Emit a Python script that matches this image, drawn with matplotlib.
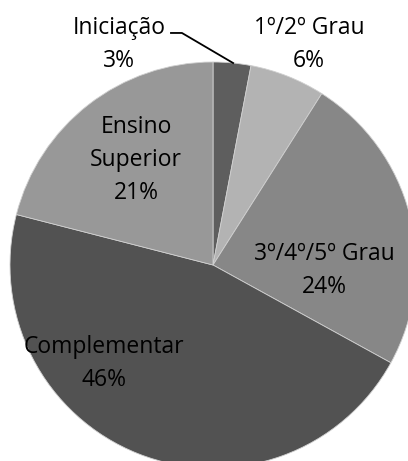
import matplotlib
matplotlib.use("Agg")
import numpy as np
from matplotlib import pyplot as plt

# data
categories = ["Iniciação", "1º/2º Grau", "3º/4º/5º Grau", "Complementar", "Ensino\nSuperior"]
shares = [3, 6, 24, 46, 21]
colors = ["#5e5e5e", "#b3b3b3", "#878787", "#525252", "#989898"]

# label centres in axis units (pie radius = 1)
label_pos = [(-0.463, 1.084), (0.473, 1.084), (0.547, -0.025), (-0.537, -0.483), (-0.379, 0.517)]

plt.rcParams['font.family'] = ['Open Sans', 'DejaVu Sans']

fig = plt.figure(figsize=(4.08, 4.61), dpi=100)
ax = fig.add_axes([10 / 408, (196 - 203) / 461, 406 / 408, 406 / 461])
ax.pie(shares, colors=colors, startangle=90, counterclock=False, radius=1,
       wedgeprops=dict(edgecolor="#d0d0d0", linewidth=0.6))
ax.set_xlim(-1, 1)
ax.set_ylim(-1, 1)
ax.set_aspect("equal")
ax.axis("off")

for name, val, (x, y) in zip(categories, shares, label_pos):
    ax.text(x, y, f"{name}\n{val}%", ha="center", va="center", fontsize=16.5,
            linespacing=1.5, color="black")

# leader line for the small slice
ax.plot([-0.207, -0.153, 0.099], [1.143, 1.143, 0.995], color="black", lw=1.3,
        clip_on=False)

fig.savefig("out.png", dpi=100)
